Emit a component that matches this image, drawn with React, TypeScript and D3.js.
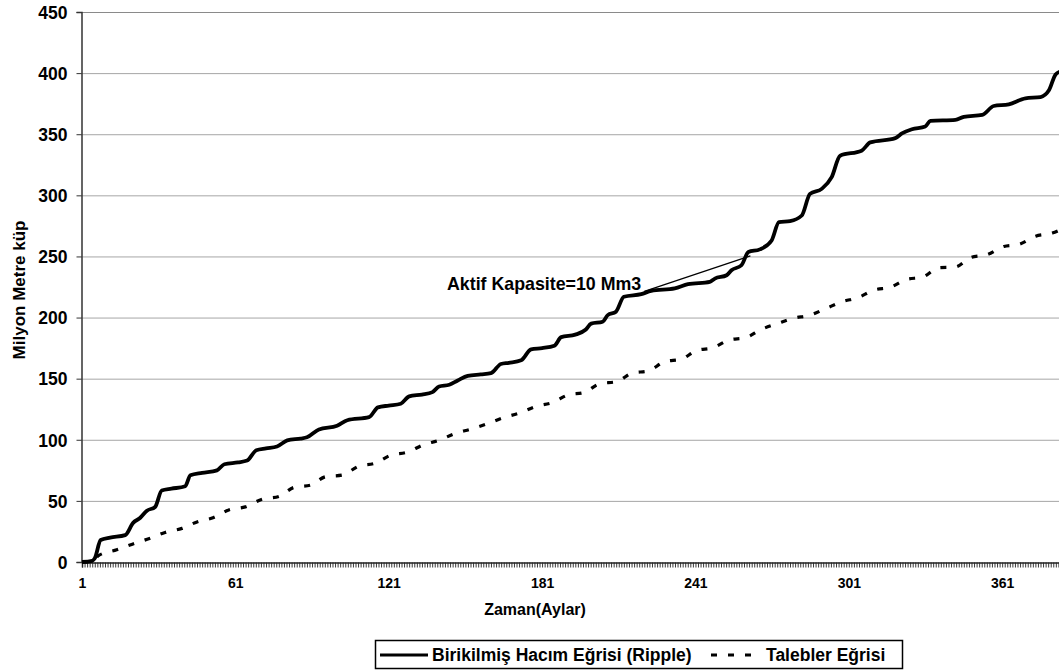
import { useEffect, useRef } from 'react'
import * as d3 from 'd3'

// months (1..384) on the category axis
const months = d3.range(1, 385)
const tickLabels = [1, 61, 121, 181, 241, 301, 361]
const yTicks = [0, 50, 100, 150, 200, 250, 300, 350, 400, 450]

// Birikilmiş Hacım Eğrisi (Ripple)
const rippleMonths = [1, 5, 6, 8.3, 12, 17.9, 21, 23.7, 26.4, 29.6, 32.2, 36, 41.4, 43.4, 48, 53.8, 56.7, 62, 65.6, 69.2, 73, 77.3, 81.3, 86.5, 89, 93.7, 100.8, 104.8, 113.3, 116.8, 121, 125.7, 129, 134, 138.1, 140.7, 144.7, 148, 151.9, 157, 161, 164.9, 168, 172.8, 176.7, 181, 185.8, 188.5, 194, 198, 200.2, 204.7, 206.7, 209.9, 213, 219.8, 223.7, 232.9, 238.1, 246.6, 248.6, 253.2, 255.1, 259, 261.7, 266.2, 270.8, 273.7, 278, 282.6, 285.8, 290.4, 294.3, 297.6, 306, 309.4, 319.2, 321.8, 325.7, 330.9, 332.9, 342.7, 346, 353.2, 357.7, 363.6, 370.1, 376, 379.3, 381.9, 384]
const rippleValues = [0, 1, 3, 18, 20, 22, 32, 36, 42, 45, 58.5, 60, 62, 71, 73, 75, 80, 81.5, 83, 91.5, 93, 94.5, 99.5, 101, 102, 108.5, 111.5, 116, 118.5, 126.5, 128, 129.5, 135.5, 137, 139, 143.6, 145, 148.5, 152.3, 153.5, 154.5, 162, 163, 165, 174, 175, 177, 184, 186, 190, 195, 196.6, 202, 204.8, 217, 219.2, 221.8, 223.8, 227.3, 229.2, 231.9, 234.6, 238.7, 242.8, 253.6, 255.8, 263.1, 278, 278.9, 283.5, 301.2, 305.3, 314.8, 332.4, 336.5, 343.3, 346.8, 350.6, 354.1, 356.3, 360.9, 361.7, 364.2, 365.8, 373.1, 374.5, 379.4, 380.4, 385.9, 398.9, 401.5]

// Talebler Eğrisi
const demandMonths = [1, 5, 7.3, 14.6, 20.7, 27.4, 33.5, 40.1, 46, 52.5, 58.4, 64.9, 71.5, 78, 83.9, 90.4, 96.3, 102.8, 109.4, 115.5, 121.8, 128.3, 134.6, 140.7, 146.9, 153.4, 159.7, 165.6, 172.1, 178.6, 185.2, 191, 197.6, 203.5, 210.4, 216.2, 222.7, 229, 235.5, 241.4, 248, 254.2, 260.5, 266.9, 273.4, 279.3, 285.8, 292.1, 298.3, 304.8, 310.7, 317.6, 323.4, 330, 336.2, 342.7, 348.6, 355.1, 361.7, 367.5, 374.1, 380.6, 384]
const demandValues = [0, 0, 5, 10, 14.6, 19.3, 24.2, 27.5, 32.8, 36.4, 42.6, 45.1, 51.4, 53.6, 61, 62.9, 69.8, 71.1, 78.5, 80.7, 87.4, 89.9, 95.9, 99.6, 105.1, 108.9, 113.2, 117.9, 121.9, 127.3, 130.6, 136.6, 138.8, 145.8, 147.7, 154.5, 156.4, 164, 166, 173, 175.4, 181.7, 183.5, 190.4, 195.3, 199.4, 202, 207.5, 212.9, 216.5, 222.4, 225.1, 231.1, 233.2, 240.8, 241.4, 249, 251.5, 258.2, 259.9, 266.6, 269.1, 272]

// tangent line for the active capacity note
const noteMonths = [221, 262.5]
const noteValues = [221.5, 250.5]

const FONT = "'Liberation Sans', Arial, sans-serif"

const App = () => {
  const svgRef = useRef<SVGSVGElement>(null)

  useEffect(() => {
    const W = 1059
    const H = 670
    const svg = d3.select(svgRef.current)
    svg.selectAll('*').remove()
    svg.attr('width', W).attr('height', H)

    const x = d3.scaleLinear().domain([1, 385]).range([82, 82 + 384 * 2.556])
    const y = d3.scaleLinear().domain([0, 450]).range([562, 12])

    // gridlines
    svg.append('g')
      .selectAll('line')
      .data(yTicks.filter(d => d > 0))
      .enter()
      .append('line')
      .attr('x1', 81)
      .attr('x2', W)
      .attr('y1', d => y(d) + 0.5)
      .attr('y2', d => y(d) + 0.5)
      .attr('stroke', d => (d === 450 ? '#8a8a8a' : '#a6a6a6'))
      .attr('stroke-width', 1)

    // y axis
    const yAxis = svg.append('g')
      .attr('transform', 'translate(81.5,0)')
      .call(d3.axisLeft(y).tickValues(yTicks).tickSize(5).tickPadding(9))
    yAxis.select('.domain').attr('stroke', '#333').attr('stroke-width', 1.5)
    yAxis.selectAll('.tick line').attr('stroke', '#333')
    yAxis.selectAll('text')
      .attr('font-family', FONT)
      .attr('font-size', 17.5)
      .attr('font-weight', 'bold')
      .attr('fill', '#000')
      .attr('dy', '0.36em')

    // x axis
    const xAxis = svg.append('g')
      .attr('transform', 'translate(0,562.5)')
      .call(
        d3.axisBottom(x)
          .tickValues(months)
          .tickSize(5)
          .tickPadding(11)
          .tickFormat(d => (tickLabels.includes(+d) ? String(d) : ''))
      )
    xAxis.select('.domain').attr('stroke', '#222').attr('stroke-width', 1.5)
    xAxis.selectAll('.tick line').attr('stroke', '#222').attr('stroke-width', 0.9)
    xAxis.selectAll('text')
      .attr('font-family', FONT)
      .attr('font-size', 14)
      .attr('font-weight', 'bold')
      .attr('fill', '#000')

    // series
    const line = d3.line<[number, number]>()
      .x(d => x(d[0]))
      .y(d => y(d[1]))
      .curve(d3.curveMonotoneX)

    const demand = demandMonths.map((m, i) => [m, demandValues[i]] as [number, number])
    const ripple = rippleMonths.map((m, i) => [m, rippleValues[i]] as [number, number])
    const note = noteMonths.map((m, i) => [m, noteValues[i]] as [number, number])

    svg.append('path')
      .datum(demand)
      .attr('fill', 'none')
      .attr('stroke', '#000')
      .attr('stroke-width', 3.2)
      .attr('stroke-dasharray', '6,11')
      .attr('d', line)

    svg.append('path')
      .datum(ripple)
      .attr('fill', 'none')
      .attr('stroke', '#000')
      .attr('stroke-width', 3.8)
      .attr('stroke-linejoin', 'round')
      .attr('d', line)

    svg.append('path')
      .datum(note)
      .attr('fill', 'none')
      .attr('stroke', '#000')
      .attr('stroke-width', 1.3)
      .attr('d', d3.line<[number, number]>().x(d => x(d[0])).y(d => y(d[1])))

    svg.append('text')
      .attr('x', 447)
      .attr('y', 290)
      .attr('font-family', FONT)
      .attr('font-size', 17.8)
      .attr('font-weight', 'bold')
      .text('Aktif Kapasite=10 Mm3')

    // axis titles
    svg.append('text')
      .attr('transform', 'rotate(-90)')
      .attr('x', -290)
      .attr('y', 25)
      .attr('text-anchor', 'middle')
      .attr('font-family', FONT)
      .attr('font-size', 17)
      .attr('font-weight', 'bold')
      .text('Milyon Metre küp')

    svg.append('text')
      .attr('x', 535)
      .attr('y', 615)
      .attr('text-anchor', 'middle')
      .attr('font-family', FONT)
      .attr('font-size', 16)
      .attr('font-weight', 'bold')
      .text('Zaman(Aylar)')

    // legend
    const lg = svg.append('g')
    lg.append('rect')
      .attr('x', 375.5)
      .attr('y', 640.5)
      .attr('width', 527)
      .attr('height', 28)
      .attr('fill', '#fff')
      .attr('stroke', '#000')
      .attr('stroke-width', 1.5)
    lg.append('line')
      .attr('x1', 380).attr('x2', 428)
      .attr('y1', 655).attr('y2', 655)
      .attr('stroke', '#000').attr('stroke-width', 3)
    lg.append('text')
      .attr('x', 432).attr('y', 661)
      .attr('font-family', FONT).attr('font-size', 17.5).attr('font-weight', 'bold')
      .text('Birikilmiş Hacım Eğrisi (Ripple)')
    lg.append('line')
      .attr('x1', 711).attr('x2', 762)
      .attr('y1', 655).attr('y2', 655)
      .attr('stroke', '#000').attr('stroke-width', 3)
      .attr('stroke-dasharray', '6,11')
    lg.append('text')
      .attr('x', 766).attr('y', 661)
      .attr('font-family', FONT).attr('font-size', 17.5).attr('font-weight', 'bold')
      .text('Talebler Eğrisi')
  }, [])

  return (
    <svg
      ref={svgRef}
      style={{ position: 'absolute', left: 0, top: 0, background: '#fff' }}
    ></svg>
  )
}

export default App
